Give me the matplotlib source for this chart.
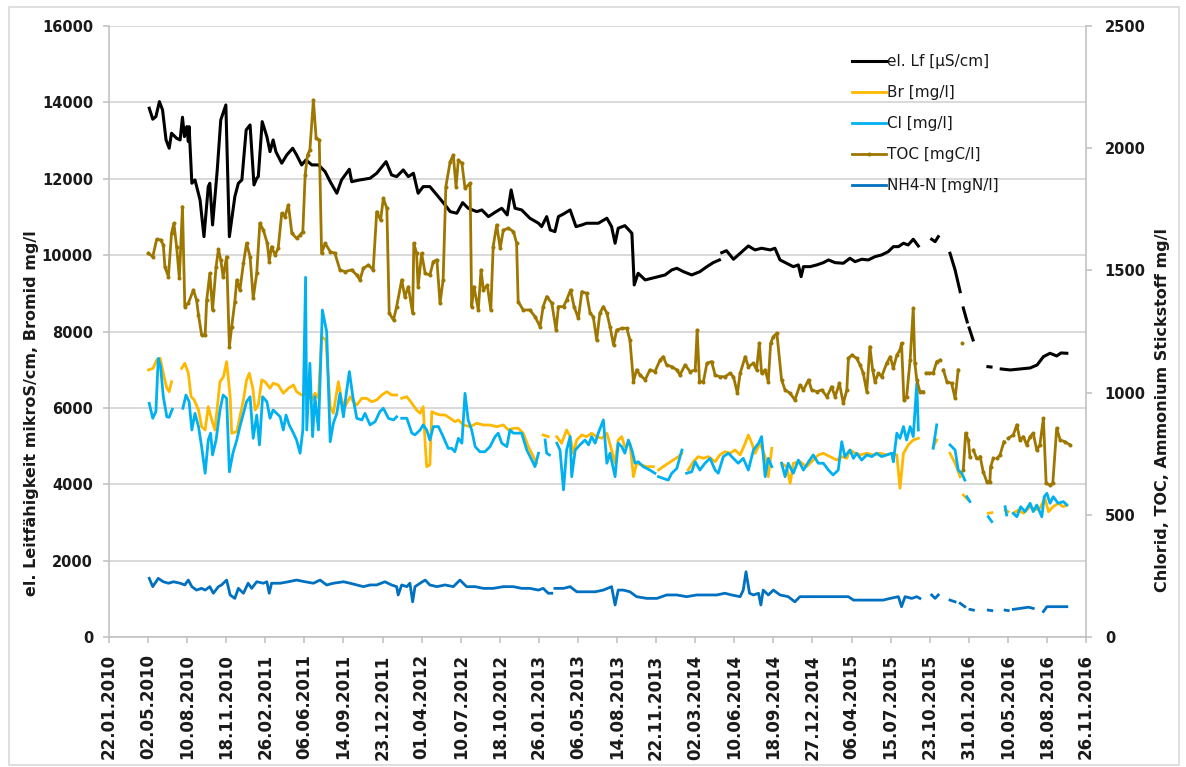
import numpy as np
import pandas as pd
import matplotlib
matplotlib.use('Agg')
import matplotlib.pyplot as plt
from matplotlib.patches import Rectangle

NA = np.nan
START = '2010-01-22'

# ---------------- data (day offsets from START, values) ----------------
lf_day = [103,112,120,129,137,146,154,160,173,182,188,193,199,203,205,212,220,233,243,254,258,265,277,286,299,308,322,331,340,351,361,371,378,382,392,404,412,420,427,442,455,470,480,493,504,519,536,553,566,583,595,615,621,642,668,685,709,723,736,753,766,779,791,804,821,839,860,873,890,905,919,941,954,971,988,1005,1019,1029,1039,1056,1077,1099,1107,1120,1129,1141,1150,1163,1180,1195,1210,1222,1235,1252,1274,1286,1295,1303,1320,1338,1344,1354,1372,1389,1406,1423,1440,1453,1470,1491,1512,1530,1546,1562,1565,1568,1580,1598,1615,1636,1653,1670,1692,1704,1717,1734,1751,1764,1771,1777,1794,1811,1828,1841,1858,1879,1896,1909,1926,1943,1960,1977,1994,2007,2020,2033,2045,2058,2071,2090,2105,2114,2122,2135,2152,2165,2178,2182,2186,2196,2199,2201,2211,2230,2249,2257,2270,2283,2306,2331,2357,2375,2391,2408,2425,2436,2451]
lf_val = [13847,13559,13627,14020,13802,13016,12799,13192,13061,13016,13611,13103,13365,12972,13365,11882,11969,11445,10484,11794,11882,10790,12231,13540,13933,10484,11532,11882,11969,13278,13409,11838,12013,12055,13496,13103,12710,13016,12710,12406,12624,12799,12624,12362,12493,12362,12362,12186,11924,11620,11969,12249,11924,11969,12013,12144,12448,12100,12055,12231,12055,12144,11620,11794,11794,11576,11314,11139,11097,11374,11228,11139,11183,11008,11123,11228,11052,11707,11228,11183,10966,10835,10746,11008,10659,10615,11008,11078,11183,10746,10790,10835,10835,10835,10966,10746,10311,10704,10772,10573,9219,9525,9350,9394,9436,9481,9612,9656,9567,9481,9567,9698,9803,9874,NA,10065,10117,9892,10049,10240,10136,10180,10136,10180,9874,9787,9698,9743,9436,9698,9698,9743,9803,9874,9803,9787,9918,9829,9892,9874,9960,10005,10091,10222,10222,10311,10266,10416,10240,NA,10416,10353,10484,NA,10049,9612,9043,NA,8617,8250,NA,8093,7778,NA,7079,7070,NA,7019,6993,7019,7045,7124,7341,7430,7359,7438,7430]

br_day = [101,113,122,131,139,148,154,160,170,186,194,203,210,218,229,237,246,254,263,271,284,293,301,310,314,327,335,344,352,359,368,374,382,391,399,412,420,433,446,459,472,480,493,506,519,527,536,544,555,566,574,587,595,604,617,625,634,647,659,672,685,698,711,723,736,742,749,762,775,787,796,804,809,813,821,826,834,847,860,873,885,894,907,924,941,958,975,992,1009,1022,1035,1047,1060,1073,1086,1094,1100,1111,1124,1130,1146,1158,1171,1180,1188,1197,1210,1222,1235,1248,1261,1274,1286,1295,1303,1312,1320,1333,1342,1350,1363,1376,1393,1398,1406,1418,1431,1444,1457,1466,1472,1482,1495,1508,1521,1534,1551,1563,1576,1589,1602,1615,1628,1636,1645,1653,1666,1679,1687,1696,1705,1721,1734,1743,1751,1768,1785,1802,1815,1828,1845,1862,1875,1888,1896,1909,1922,1939,1956,1973,1990,2003,2016,2024,2033,2045,2058,2071,2090,2109,2118,2130,2152,2165,2178,2182,2186,2199,2220,2250,2259,2275,2293,2301,2306,2314,2327,2340,2357,2370,2382,2395,2404,2416,2429,2442,2451]
br_val = [6993,7037,7255,7299,6906,6513,6424,6686,NA,7037,7168,6906,6293,6207,5945,5508,5421,6032,5683,5421,6686,6817,7210,6293,5335,5377,5770,6207,6731,6906,6513,5945,6076,6731,6686,6513,6644,6600,6383,6513,6600,6424,6338,6383,6207,6383,6251,7865,7778,6032,5859,6686,6207,6032,6293,6162,6076,6251,6251,6162,6207,6338,6424,6338,6338,NA,6251,6293,6121,5945,5859,6032,5073,4460,4505,5901,5859,5814,5814,5728,5639,5683,5552,5508,5597,5552,5552,5508,5552,5421,5466,5466,5335,4984,4722,4549,NA,5290,5246,NA,5246,5073,5421,5246,4811,5159,5290,5246,5335,5246,5204,5335,4898,4549,5159,5246,4984,5073,4198,4549,4505,4460,4460,NA,4374,4460,4549,4636,4722,4811,NA,4374,4591,4722,4680,4722,4591,4767,4853,4811,4898,4767,5073,5290,5073,4811,5073,4722,4198,4942,NA,4549,4460,4025,4549,4591,4460,4636,4767,4811,4722,4636,4722,4680,4898,4811,4767,4811,4767,4811,4767,4811,4767,3894,4811,5028,5159,5204,NA,4984,5159,NA,4811,4549,4198,NA,3719,3588,NA,3240,3255,NA,3326,3282,NA,3240,3326,3240,3413,3326,3371,3633,3282,3413,3502,3413,3457]

cl_day = [103,112,120,126,132,139,148,154,162,170,189,197,205,212,220,229,237,246,254,260,265,274,284,292,301,308,317,327,335,344,352,361,369,378,385,393,404,412,420,429,438,446,453,461,472,480,489,496,503,506,514,521,527,536,546,557,566,574,583,591,600,606,615,624,634,647,655,668,681,693,702,715,728,736,742,749,762,775,783,796,804,813,821,830,843,855,868,877,885,894,903,911,919,928,937,949,962,975,988,996,1005,1018,1026,1035,1043,1056,1069,1082,1090,1099,1105,1116,1120,1127,1135,1146,1154,1163,1171,1180,1184,1193,1205,1218,1227,1235,1244,1252,1265,1274,1282,1295,1303,1312,1320,1329,1338,1346,1354,1367,1384,1397,1401,1406,1418,1431,1440,1453,1466,1472,1478,1491,1500,1512,1525,1538,1551,1559,1572,1585,1598,1610,1623,1636,1649,1662,1670,1679,1687,1696,1705,1721,1730,1738,1751,1764,1777,1790,1802,1815,1828,1841,1853,1866,1875,1883,1896,1905,1913,1926,1939,1952,1964,1977,1990,2003,2007,2016,2024,2033,2041,2050,2058,2067,2071,2090,2109,2118,2130,2152,2165,2173,2182,2190,2193,2195,2203,2230,2250,2259,2275,2293,2297,2305,2314,2323,2333,2344,2357,2365,2374,2387,2393,2400,2408,2416,2429,2442,2451]
cl_val = [956,895,922,1140,1106,983,901,899,932,NA,936,990,963,847,915,861,779,670,806,834,745,806,929,990,977,676,752,806,861,915,963,983,813,908,786,983,963,895,929,915,901,847,908,868,834,806,752,847,1472,847,1120,820,983,847,1338,1249,799,874,915,997,901,983,1086,983,895,888,915,868,881,922,936,895,888,901,NA,895,895,834,827,847,868,847,806,861,861,820,772,772,758,813,793,997,888,847,779,758,758,779,820,834,793,779,847,834,834,834,765,724,697,752,NA,806,752,745,NA,793,765,602,765,820,656,765,786,806,786,820,793,834,888,711,752,656,793,779,752,806,765,711,717,697,683,670,NA,656,649,642,670,690,765,NA,670,676,717,683,711,731,683,670,738,752,731,711,731,683,765,793,820,656,731,697,NA,711,656,711,670,724,683,717,745,711,711,683,663,683,799,738,765,731,752,724,745,738,752,738,745,752,717,834,813,861,806,861,820,1038,847,NA,772,868,NA,786,765,683,670,642,NA,574,554,NA,492,472,NA,533,499,NA,506,492,533,513,547,513,540,492,574,588,547,574,547,554,540]

toc_day = [101,112,122,132,139,143,152,160,166,173,180,188,194,203,216,224,229,237,246,250,258,265,274,280,286,292,301,308,314,322,327,335,344,352,361,369,378,386,395,405,410,416,425,433,442,450,459,468,480,489,496,502,508,514,523,530,538,544,553,566,578,591,604,621,634,642,651,664,676,685,695,702,711,717,728,736,749,757,766,777,780,787,791,800,809,821,830,839,847,855,862,873,881,888,894,903,911,924,928,934,945,952,958,968,977,983,992,1001,1009,1022,1035,1043,1047,1060,1077,1090,1103,1111,1120,1133,1144,1150,1163,1171,1181,1190,1201,1210,1222,1231,1239,1248,1256,1265,1274,1282,1291,1299,1312,1325,1333,1342,1350,1359,1372,1384,1397,1410,1418,1427,1440,1453,1461,1474,1487,1500,1505,1511,1521,1530,1542,1551,1563,1576,1589,1598,1608,1615,1628,1636,1649,1657,1664,1670,1679,1687,1693,1700,1709,1721,1730,1743,1755,1768,1777,1790,1798,1811,1824,1837,1849,1858,1869,1879,1888,1892,1901,1913,1922,1930,1939,1947,1954,1960,1969,1977,1990,1999,2007,2016,2024,2028,2034,2041,2050,2058,2062,2067,2075,2084,2088,2091,2098,2109,2118,2127,2131,2135,2144,2156,2165,2173,2178,2182,2184,2186,2192,2199,2203,2208,2212,2220,2225,2229,2237,2246,2254,2256,2263,2268,2272,2280,2290,2295,2301,2314,2323,2331,2340,2348,2357,2365,2374,2382,2391,2398,2408,2415,2425,2434,2446,2459]
toc_val = [1570,1556,1627,1625,1604,1515,1474,1652,1693,1597,1468,1761,1352,1366,1420,1379,1318,1236,1236,1379,1488,1338,1515,1586,1543,1474,1556,1188,1270,1372,1461,1420,1529,1611,1556,1386,1488,1693,1665,1611,1536,1597,1563,1591,1734,1720,1768,1652,1631,1645,1659,1891,1972,1993,2197,2041,2034,1570,1611,1577,1570,1502,1495,1502,1481,1461,1509,1522,1502,1740,1706,1795,1754,1325,1297,1352,1461,1393,1433,1325,1611,1570,1433,1570,1488,1481,1536,1543,1366,1461,1843,1945,1972,1843,1952,1938,1836,1857,1352,1433,1338,1502,1420,1440,1338,1597,1686,1591,1665,1672,1659,1611,1372,1338,1338,1311,1270,1352,1393,1366,1256,1352,1352,1379,1420,1352,1304,1413,1406,1325,1311,1215,1325,1352,1325,1270,1195,1256,1263,1263,1215,1045,1093,1072,1052,1093,1086,1133,1147,1113,1106,1093,1072,1113,1086,1093,1256,1045,1045,1120,1127,1072,1065,1065,1079,1065,997,1079,1147,1106,1120,1093,1202,1079,1093,1045,1202,1229,1243,1052,1011,997,970,1031,1011,1052,1011,1004,1011,983,1024,983,1038,956,1011,1140,1154,1140,1113,1079,1004,1188,1093,1045,1079,1065,1120,1147,1100,1154,1174,1202,970,983,1133,1345,1120,1052,1004,1004,NA,1080,1080,1080,1127,1133,NA,1093,1045,1038,977,1093,NA,1202,NA,683,834,806,738,NA,765,731,NA,738,676,636,636,697,731,NA,731,745,799,NA,813,827,868,806,820,786,820,834,765,786,895,629,622,629,854,806,799,786]

nh4_day = [103,112,126,139,152,165,182,194,203,212,224,237,246,258,267,280,288,301,310,322,331,344,356,365,378,395,404,410,416,438,459,480,502,523,540,557,574,600,617,634,651,668,685,706,723,736,740,749,762,770,777,783,796,809,821,839,860,881,898,915,937,958,983,1009,1035,1056,1077,1099,1111,1124,1133,1136,1141,1163,1180,1197,1222,1244,1265,1286,1295,1303,1316,1333,1350,1376,1402,1427,1453,1478,1504,1530,1555,1576,1593,1615,1623,1630,1639,1649,1662,1668,1674,1687,1700,1717,1738,1755,1768,1794,1819,1845,1870,1892,1905,1930,1956,1981,1999,2020,2028,2037,2054,2067,2075,2090,2105,2114,2122,2135,2152,2165,2170,2178,2190,2195,2203,2212,2230,2250,2259,2275,2293,2301,2306,2314,2331,2353,2365,2380,2391,2400,2416,2434,2451]
nh4_val = [240,206,240,226,220,226,220,213,233,206,192,199,192,206,179,206,213,233,172,158,199,179,220,199,226,220,226,179,220,220,226,233,226,220,233,213,220,226,220,213,206,213,213,226,213,206,172,213,206,220,144,206,220,233,213,206,213,206,233,206,206,199,199,206,206,199,199,192,199,179,179,NA,199,199,206,185,185,185,192,206,131,192,192,185,165,158,158,172,172,165,172,172,172,179,172,165,192,267,179,172,179,131,192,172,192,172,165,144,165,165,165,165,165,165,151,151,151,151,158,165,124,165,158,165,158,NA,172,158,172,NA,151,144,NA,138,124,NA,113,110,NA,110,108,NA,110,108,NA,113,117,122,117,NA,104,124,124,124,124]

tick_labels = ['22.01.2010', '02.05.2010', '10.08.2010', '18.11.2010', '26.02.2011',
               '06.06.2011', '14.09.2011', '23.12.2011', '01.04.2012', '10.07.2012',
               '18.10.2012', '26.01.2013', '06.05.2013', '14.08.2013', '22.11.2013',
               '02.03.2014', '10.06.2014', '18.09.2014', '27.12.2014', '06.04.2015',
               '15.07.2015', '23.10.2015', '31.01.2016', '10.05.2016', '18.08.2016',
               '26.11.2016']
left_ticks = [0, 2000, 4000, 6000, 8000, 10000, 12000, 14000, 16000]
right_ticks = [0, 500, 1000, 1500, 2000, 2500]

series_names = ['el. Lf [µS/cm]', 'Br [mg/l]', 'Cl [mg/l]', 'TOC [mgC/l]', 'NH4-N [mgN/l]']
series_colors = ['#000000', '#FFB800', '#00B0F0', '#9E7700', '#0070C0']


def to_dates(days):
    return pd.Timestamp(START) + pd.to_timedelta(np.array(days, dtype=float), unit='D')


W, H = 1186, 767
fig = plt.figure(figsize=(W / 100, H / 100), dpi=100)
ax = fig.add_axes([109 / W, 1 - 637 / H, (1086 - 109) / W, (637 - 26) / H])
ax2 = ax.twinx()

grey = '#bfbfbf'
txt = '#1a1a1a'
lw = 2.0

l1, = ax.plot(to_dates(lf_day), lf_val, color=series_colors[0], lw=lw + 0.2, label=series_names[0])
l2, = ax.plot(to_dates(br_day), br_val, color=series_colors[1], lw=lw, label=series_names[1])
l3, = ax2.plot(to_dates(cl_day), cl_val, color=series_colors[2], lw=lw, label=series_names[2])
l4, = ax2.plot(to_dates(toc_day), toc_val, color=series_colors[3], lw=lw, marker='o', ms=1.9,
               label=series_names[3])
l5, = ax2.plot(to_dates(nh4_day), nh4_val, color=series_colors[4], lw=lw, label=series_names[4])

tick_dates = pd.to_datetime(tick_labels, format='%d.%m.%Y')
ax.set_xlim(tick_dates[0], tick_dates[-1])
ax.set_xticks(tick_dates)
ax.set_xticklabels(tick_labels, rotation=90, fontweight='bold', fontsize=12, color=txt)

ax.set_ylim(0, 16000)
ax.set_yticks(left_ticks)
ax.set_yticklabels([str(t) for t in left_ticks], fontweight='bold', fontsize=10.5, color=txt)
ax2.set_ylim(0, 2500)
ax2.set_yticks(right_ticks)
ax2.set_yticklabels([str(t) for t in right_ticks], fontweight='bold', fontsize=10.5, color=txt)

ax.grid(axis='y', color='#d0d0d0', lw=1.1)
ax.grid(axis='x', visible=False)
ax.set_axisbelow(True)

for s in ['top']:
    ax.spines[s].set_visible(False)
    ax2.spines[s].set_visible(False)
for s in ['left', 'bottom']:
    ax.spines[s].set_color(grey)
    ax.spines[s].set_linewidth(1.1)
ax.spines['right'].set_visible(False)
ax2.spines['left'].set_visible(False)
ax2.spines['bottom'].set_visible(False)
ax2.spines['right'].set_color(grey)
ax2.spines['right'].set_linewidth(1.1)

ax.tick_params(axis='y', direction='out', length=4.5, width=1.1, color=grey, pad=7)
ax.tick_params(axis='x', direction='out', length=4.5, width=1.1, color=grey, pad=8)
ax2.tick_params(axis='y', direction='out', length=4.5, width=1.1, color=grey, pad=9)

fig.text(32 / W, 1 - 413 / H, 'el. Leitfähigkeit mikroS/cm, Bromid mg/l', rotation=90,
         ha='center', va='center', fontweight='bold', fontsize=11.5, color=txt)
fig.text(1163 / W, 1 - 410 / H, 'Chlorid, TOC, Ammonium Stickstoff mg/l', rotation=90,
         ha='center', va='center', fontweight='bold', fontsize=11.5, color=txt)

leg = ax2.legend(handles=[l1, l2, l3, l4, l5], loc='upper left',
                 bbox_to_anchor=(852 / W, 1 - 54 / H), bbox_transform=fig.transFigure,
                 frameon=False, fontsize=11, handlelength=2.2, handletextpad=0.1,
                 labelspacing=1.05, borderpad=0, borderaxespad=0)
for t in leg.get_texts():
    t.set_color(txt)

fig.patches.append(Rectangle((9 / W, 2 / H), (1179 - 9) / W, (760 - 2) / H,
                             transform=fig.transFigure, fill=False,
                             edgecolor='#d9d9d9', lw=1.2))

fig.savefig('out.png', dpi=100)
